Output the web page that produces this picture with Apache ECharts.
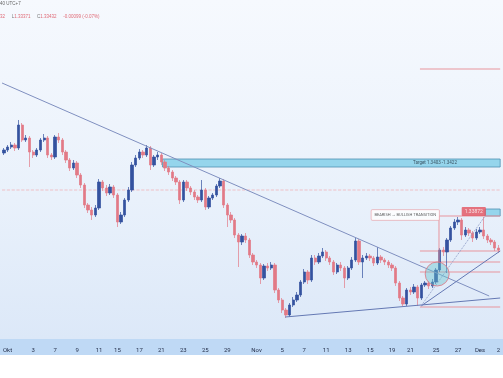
<!DOCTYPE html>
<html><head><meta charset="utf-8">
<script src="https://cdn.jsdelivr.net/npm/echarts@6/dist/echarts.min.js"></script>
<style>
html,body{margin:0;padding:0;background:#fff;}
#c{width:503px;height:378px;background:linear-gradient(to bottom,#f6f9fe 0px,#e9f1fb 200px,#dce8f8 339px,#bfd9f5 339px,#bfd9f5 355px,#ffffff 355px);}
</style></head><body><div id="c"></div>
<script>
const tickIndex=[1,8,14,20,26,31,37,43,49,55,61,69,76,82,88,94,100,106,111,118,124,130,135];
const tickText=['Okt','3','7','9','11','15','17','21','23','25','29','Nov','5','7','11','13','15','19','21','25','27','Des','2'];

const openPx=[1.3447,1.3450,1.3453,1.3455,1.3452,1.3475,1.3460,1.3462,1.3448,1.3445,
1.3450,1.3460,1.3462,1.3445,1.3443,1.3463,1.3460,1.3448,1.3440,1.3432,
1.3437,1.3425,1.3415,1.3395,1.3390,1.3385,1.3392,1.3418,1.3412,1.3407,
1.3413,1.3405,1.3378,1.3385,1.3400,1.3410,1.3435,1.3442,1.3448,1.3445,
1.3452,1.3435,1.3443,1.3445,1.3438,1.3432,1.3428,1.3422,1.3418,1.3400,
1.3418,1.3412,1.3408,1.3403,1.3400,1.3410,1.3393,1.3402,1.3405,1.3414,
1.3419,1.3395,1.3385,1.3380,1.3365,1.3358,1.3364,1.3360,1.3345,1.3338,
1.3335,1.3322,1.3334,1.3332,1.3335,1.3310,1.3300,1.3290,1.3285,1.3295,
1.3300,1.3305,1.3318,1.3328,1.3320,1.3342,1.3338,1.3344,1.3348,1.3342,
1.3338,1.3328,1.3335,1.3332,1.3322,1.3332,1.3340,1.3359,1.3338,1.3342,
1.3344,1.3342,1.3337,1.3343,1.3340,1.3338,1.3335,1.3332,1.3317,1.3302,
1.3296,1.3310,1.3308,1.3313,1.3302,1.3315,1.3317,1.3314,1.3318,1.3330,
1.3350,1.3348,1.3360,1.3372,1.3378,1.3380,1.3365,1.3370,1.3367,1.3362,
1.3368,1.3370,1.3364,1.3360,1.3358,1.3352];

const closePx=[1.3450,1.3453,1.3455,1.3452,1.3475,1.3460,1.3462,1.3448,1.3445,1.3450,
1.3460,1.3462,1.3445,1.3443,1.3463,1.3460,1.3448,1.3440,1.3432,1.3437,
1.3425,1.3415,1.3395,1.3390,1.3385,1.3392,1.3418,1.3412,1.3407,1.3413,
1.3405,1.3378,1.3385,1.3400,1.3410,1.3435,1.3442,1.3448,1.3445,1.3452,
1.3435,1.3443,1.3445,1.3438,1.3432,1.3428,1.3422,1.3418,1.3400,1.3418,
1.3412,1.3408,1.3403,1.3400,1.3410,1.3393,1.3402,1.3405,1.3414,1.3419,
1.3395,1.3385,1.3380,1.3365,1.3358,1.3364,1.3360,1.3345,1.3338,1.3335,
1.3322,1.3334,1.3332,1.3335,1.3310,1.3300,1.3290,1.3285,1.3295,1.3300,
1.3305,1.3318,1.3328,1.3320,1.3342,1.3338,1.3344,1.3348,1.3342,1.3338,
1.3328,1.3335,1.3332,1.3322,1.3332,1.3340,1.3359,1.3338,1.3342,1.3344,
1.3342,1.3337,1.3343,1.3340,1.3338,1.3335,1.3332,1.3317,1.3302,1.3296,
1.3310,1.3308,1.3313,1.3302,1.3315,1.3317,1.3314,1.3318,1.3330,1.3350,
1.3348,1.3360,1.3372,1.3378,1.3380,1.3365,1.3370,1.3367,1.3362,1.3368,
1.3370,1.3364,1.3360,1.3358,1.3352,1.3350];

const highPx=[1.3452,1.3455,1.3458,1.3457,1.3480,1.3477,1.3465,1.3464,1.3450,1.3452,
1.3462,1.3466,1.3464,1.3447,1.3465,1.3467,1.3462,1.3450,1.3442,1.3440,
1.3439,1.3427,1.3417,1.3397,1.3393,1.3395,1.3421,1.3420,1.3415,1.3416,
1.3415,1.3407,1.3388,1.3402,1.3413,1.3438,1.3445,1.3451,1.3450,1.3455,
1.3454,1.3445,1.3448,1.3447,1.3440,1.3434,1.3430,1.3424,1.3420,1.3420,
1.3420,1.3414,1.3410,1.3405,1.3420,1.3412,1.3404,1.3407,1.3416,1.3422,
1.3421,1.3397,1.3388,1.3382,1.3367,1.3366,1.3367,1.3362,1.3347,1.3340,
1.3337,1.3336,1.3337,1.3338,1.3337,1.3312,1.3302,1.3292,1.3297,1.3303,
1.3308,1.3320,1.3331,1.3330,1.3345,1.3345,1.3347,1.3352,1.3350,1.3344,
1.3340,1.3337,1.3338,1.3334,1.3334,1.3343,1.3362,1.3361,1.3345,1.3347,
1.3346,1.3344,1.3353,1.3345,1.3342,1.3340,1.3337,1.3334,1.3319,1.3304,
1.3312,1.3313,1.3316,1.3315,1.3317,1.3319,1.3319,1.3321,1.3332,1.3352,
1.3353,1.3362,1.3374,1.3381,1.3383,1.3382,1.3373,1.3372,1.3369,1.3371,
1.3373,1.3383,1.3366,1.3362,1.3360,1.3355];

const lowPx=[1.3445,1.3448,1.3451,1.3449,1.3450,1.3458,1.3458,1.3433,1.3442,1.3443,
1.3448,1.3458,1.3442,1.3440,1.3441,1.3457,1.3445,1.3437,1.3429,1.3430,
1.3422,1.3412,1.3392,1.3387,1.3380,1.3383,1.3390,1.3409,1.3404,1.3405,
1.3402,1.3373,1.3376,1.3383,1.3398,1.3408,1.3433,1.3440,1.3442,1.3443,
1.3430,1.3433,1.3440,1.3435,1.3429,1.3425,1.3419,1.3415,1.3396,1.3398,
1.3409,1.3405,1.3400,1.3397,1.3398,1.3390,1.3391,1.3400,1.3403,1.3412,
1.3392,1.3373,1.3377,1.3362,1.3333,1.3355,1.3357,1.3342,1.3335,1.3332,
1.3316,1.3320,1.3329,1.3330,1.3307,1.3297,1.3287,1.3282,1.3283,1.3293,
1.3298,1.3303,1.3316,1.3316,1.3318,1.3335,1.3336,1.3342,1.3339,1.3335,
1.3325,1.3326,1.3329,1.3312,1.3320,1.3330,1.3338,1.3335,1.3322,1.3340,
1.3339,1.3334,1.3335,1.3337,1.3335,1.3332,1.3329,1.3314,1.3299,1.3294,
1.3294,1.3305,1.3306,1.3294,1.3300,1.3313,1.3311,1.3312,1.3316,1.3328,
1.3344,1.3327,1.3358,1.3370,1.3375,1.3360,1.3363,1.3364,1.3358,1.3360,
1.3366,1.3361,1.3357,1.3355,1.3349,1.3347];

// drawing annotations (bar index, price)
const trendDown=[[-0.5,1.3517],[132.5,1.3304]];
const trendSupport=[[76.8,1.3283],[135.5,1.3302]];
const riseSolid=[[113.9,1.3294],[135.5,1.3349]];
const riseDotted=[[113.9,1.3294],[131.4,1.3384]];
const levelStart=113.6, levelEnd=135.5;
const levelPrices=[1.3531,1.3349,1.3338,1.3328,1.3293];
const faintLevel=1.3410;
const connector=[[135.5,1.3384],[118.8,1.3384],[118.8,1.3338]];
const targetZone=[[43.3,1.3441],[135.5,1.3433]];
const smallZone=[[131.4,1.3391],[135.5,1.3384]];
const targetLabelPos=[117.7,1.3437];
const highLabelPos=[128.3,1.33885];
const transLabelPos=[109.6,1.3385];
const circlePos=[118.3,1.3326];

const N=openPx.length;
const slots=openPx.map((_,i)=>'b'+i);
const candles=openPx.map((o,i)=>[o,closePx[i],lowPx[i],highPx[i]]);

function seg(data,color,type,width,z){
  return {type:'line',xAxisIndex:1,yAxisIndex:0,data:data,symbol:'none',silent:true,
    lineStyle:{color:color,width:width||1,type:type||'solid'},z:z||3};
}
const levelSeries=levelPrices.map(p=>seg([[levelStart,p],[levelEnd,p]],'#e8959d','solid',1,2));

const chart=echarts.init(document.getElementById('c'),null,{renderer:'canvas'});
chart.setOption({
  animation:false,
  backgroundColor:'transparent',
  textStyle:{fontFamily:'Roboto, sans-serif'},
  grid:{left:0,right:0,top:0,bottom:38},
  xAxis:[{type:'category',data:slots,boundaryGap:true,
    axisLine:{show:false},axisTick:{show:false},splitLine:{show:false},
    axisLabel:{interval:(i)=>tickIndex.includes(i),formatter:(v,i)=>tickText[tickIndex.indexOf(i)],
      fontSize:6,color:'#27324d',margin:7,hideOverlap:false}},
    {type:'value',min:-0.5,max:N-0.5,show:false}],
  yAxis:{type:'value',min:1.326,max:1.36,show:false},
  series:[
    Object.assign(seg([[-0.5,faintLevel],[N-0.5,faintLevel]],'#f0b4ba','dashed',0.8,1),{
      markArea:{silent:true,data:[
        [{coord:targetZone[0],itemStyle:{color:'rgba(140,210,234,0.9)',borderColor:'#4f8fb3',borderWidth:0.8}},{coord:targetZone[1]}],
        [{coord:smallZone[0],itemStyle:{color:'rgba(140,210,234,0.9)',borderColor:'#4f8fb3',borderWidth:0.8}},{coord:smallZone[1]}]
      ]}}),
    {type:'candlestick',xAxisIndex:0,yAxisIndex:0,data:candles,barWidth:2.8,z:2,
      itemStyle:{color:'#34529f',color0:'#e27a86',borderColor:'#34529f',borderColor0:'#e27a86',borderWidth:0.7}},
    ...levelSeries,
    seg(trendDown,'#7f8fbf','solid',1,4),
    seg(trendSupport,'#6478b3','solid',1,4),
    seg(riseSolid,'#6478b3','solid',1,4),
    seg(riseDotted,'#8e9cc6','dotted',1,4),
    seg(connector,'#e8959d','solid',1,4),
    {type:'scatter',xAxisIndex:1,yAxisIndex:0,silent:true,z:5,
      data:[{value:circlePos,symbolSize:24,itemStyle:{color:'rgba(105,195,205,0.55)',borderColor:'#e0737f',borderWidth:1}}]},
    {type:'scatter',xAxisIndex:1,yAxisIndex:0,silent:true,z:6,symbolSize:0,
      data:[
        {value:targetLabelPos,label:{show:true,position:'inside',formatter:'Target 1.3403 -1.3422',fontSize:4.5,color:'#1d2a3a'}},
        {value:highLabelPos,label:{show:true,position:'inside',formatter:'1.33872',fontSize:5,color:'#ffffff',backgroundColor:'#e2535f',padding:[2,3],borderRadius:1}},
        {value:transLabelPos,label:{show:true,position:'inside',formatter:'BEARISH \u2192 BULLISH TRANSITION',fontSize:4,color:'#333333',backgroundColor:'#ffffff',borderColor:'#eaa6ae',borderWidth:0.8,padding:[3,3],borderRadius:1}}
      ]}
  ],
  graphic:[
    {type:'text',left:0,top:1,style:{text:'40 UTC+7',fontSize:4.5,fill:'#666666'}},
    {type:'text',left:0,top:11,style:{text:'{r|32}  {g|L}{r|1.33371}  {g|C}{r|1.33432}  {r|-0.00099 (-0.07%)}',
      rich:{r:{fill:'#e06a76',fontSize:4.5},g:{fill:'#777777',fontSize:4.5}}}}
  ]
});
</script></body></html>
